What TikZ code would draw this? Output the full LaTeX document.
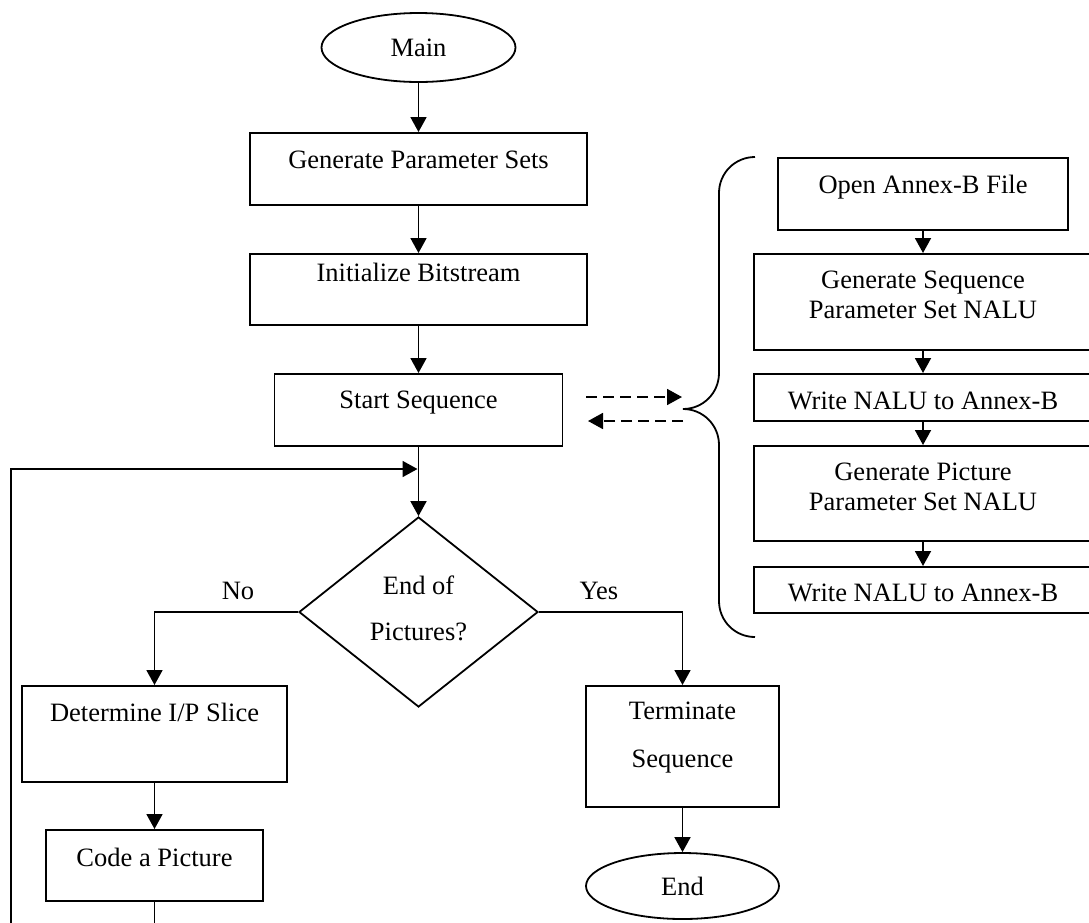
\documentclass[tikz,border=0pt]{standalone}
\usepackage{fontspec}
\setmainfont{Liberation Serif}
\usetikzlibrary{arrows.meta,shapes.geometric}

% two centred lines whose reference point is the first baseline
\newcommand{\twoline}[3]{\vtop{\baselineskip=#3\relax\lineskiplimit=-\maxdimen
  \halign{\hfil##\hfil\cr #1\cr #2\cr}}}

\tikzset{
  box/.style={draw, rectangle, line width=1.8pt, inner sep=0pt, anchor=north},
  term/.style={draw, ellipse, line width=1.8pt, inner sep=0pt},
  cond/.style={draw, diamond, aspect=1.26, line width=1.8pt, inner sep=0pt},
  arr/.style={line width=1.8pt, -{Triangle[length=15pt,width=16pt]}},
  dasharr/.style={arr, dash pattern=on 11pt off 6pt},
  lbl/.style={anchor=base, inner sep=0pt},
  brace/.style={line width=1.8pt}
}

\begin{document}
\begin{tikzpicture}[x=1pt, y=-1pt, font=\fontsize{26.5}{30}\selectfont]
\useasboundingbox (0,0) rectangle (1089,922);
\clip (0,0) rectangle (1089,922);

% main column
\node[term, minimum width=194pt, minimum height=69pt] (main) at (418.5,47.5) {Main};
\node[box, minimum width=337pt, text height=36pt, text depth=36pt] (gps) at (418.5,132) {Generate Parameter Sets};
\node[box, minimum width=337pt, text height=28pt, text depth=43pt] (ib) at (418.5,253) {Initialize Bitstream};
\node[box, minimum width=288pt, text height=35pt, text depth=37pt] (ss) at (418.5,373) {Start Sequence};
\node[cond, minimum width=239pt, minimum height=190pt, text height=20pt, text depth=56pt] (dec) at (418.5,612) {\twoline{End of}{Pictures?}{46pt}};

% "No" branch
\node[box, minimum width=265pt, text height=36pt, text depth=60pt] (dip) at (154.5,685) {Determine I/P Slice};
\node[box, minimum width=217pt, text height=37pt, text depth=34pt] (cap) at (154.5,829) {Code a Picture};

% "Yes" branch
\node[box, minimum width=193pt, text height=34pt, text depth=87pt] (ts) at (682.5,685) {\twoline{Terminate}{Sequence}{48pt}};
\node[term, minimum width=193pt, minimum height=66pt] (endn) at (682.5,886) {End};

% branch labels
\node[lbl] (lblno) at (238,599) {No};
\node[lbl] (lblyes) at (599,599) {Yes};

% sequence start-up steps
\node[box, minimum width=290pt, text height=36pt, text depth=36pt] (oab) at (923,157) {Open Annex-B File};
\node[box, minimum width=338pt, text height=35pt, text depth=61pt] (gsp) at (923,253) {\twoline{Generate Sequence}{Parameter Set NALU}{30pt}};
\node[box, minimum width=338pt, text height=36pt, text depth=11pt] (wa) at (923,373) {Write NALU to Annex-B};
\node[box, minimum width=338pt, text height=35pt, text depth=60pt] (gpp) at (923,445) {\twoline{Generate Picture}{Parameter Set NALU}{30pt}};
\node[box, minimum width=338pt, text height=35pt, text depth=11pt] (wb) at (923,566) {Write NALU to Annex-B};

% connectors of the main flow
\draw[arr] (main.south) -- (gps.north);
\draw[arr] (gps.south) -- (ib.north);
\draw[arr] (ib.south) -- (ss.north);
\draw[arr] (ss.south) -- (dec.north);
\draw[arr] (dec.west) -| (dip.north);
\draw[arr] (dec.east) -| (ts.north);
\draw[arr] (dip.south) -- (cap.north);
\draw[arr] (ts.south) -- (endn.north);

% loop back to the decision
\coordinate (loopturn) at (11,960);
\coordinate (merge) at (417.5,469);
\draw[arr] (cap.south) |- (loopturn) |- (merge);

% start-up step connectors
\draw[arr] (oab.south) -- (gsp.north);
\draw[arr] (gsp.south) -- (wa.north);
\draw[arr] (wa.south) -- (gpp.north);
\draw[arr] (gpp.south) -- (wb.north);

% brace grouping the start-up steps
\coordinate (bracetip) at (683,409);
\draw[brace] (755,157) .. controls (735,157) and (719,173) .. (719,193)
  -- (719,373) .. controls (719,393) and (703,409) .. (bracetip)
  .. controls (703,409) and (719,425) .. (719,445)
  -- (719,601) .. controls (719,621) and (735,637) .. (755,637);

% call and return between Start Sequence and the brace
\coordinate (callA) at (586,397);
\coordinate (callB) at (682,397);
\coordinate (retA) at (683,421);
\coordinate (retB) at (588,421);
\draw[dasharr] (callA) -- (callB);
\draw[dasharr] (retA) -- (retB);
\end{tikzpicture}
\end{document}
